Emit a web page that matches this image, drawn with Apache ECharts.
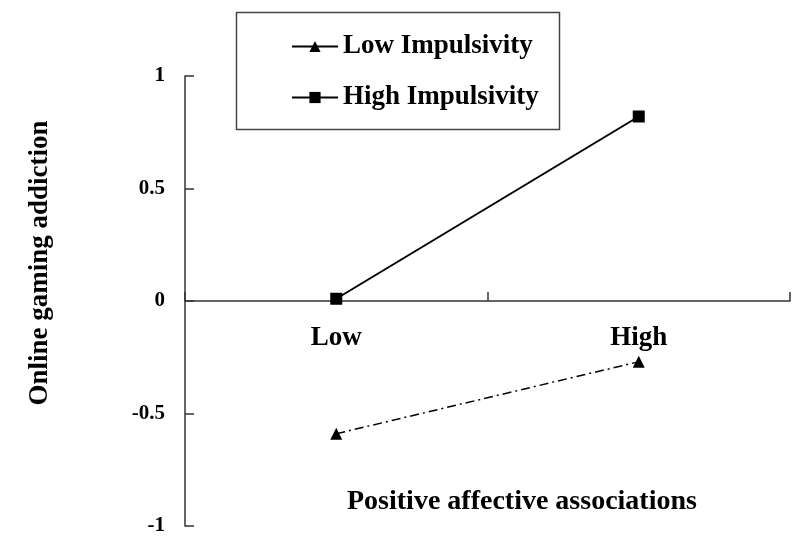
<!DOCTYPE html>
<html><head><meta charset="utf-8">
<script src="https://cdn.jsdelivr.net/npm/echarts@6/dist/echarts.min.js"></script>
<style>html,body{margin:0;padding:0;background:#fff}#c{width:800px;height:547px}</style>
</head><body><div id="c"></div>
<script>
var categories = ['Low', 'High'];
var lowImpulsivity = [-0.59, -0.27];
var highImpulsivity = [0.01, 0.82];
var yTicks = [-1, -0.5, 0, 0.5, 1];

var font = '"Liberation Serif", "Times New Roman", serif';
var chart = echarts.init(document.getElementById('c'), null, {renderer: 'canvas'});
chart.setOption({
  animation: false,
  backgroundColor: '#fff',
  grid: {left: 185, right: 10, top: 76, bottom: 21, containLabel: false, outerBoundsMode: 'none'},
  xAxis: {
    type: 'category', data: categories, boundaryGap: true,
    position: 'bottom', offset: -225,
    axisLine: {show: true, onZero: false, lineStyle: {color: '#333', width: 1.5}},
    axisTick: {show: true, interval: 0, inside: true, length: 9, lineStyle: {color: '#333', width: 1.5}},
    axisLabel: {margin: 24, color: '#000', fontFamily: font, fontWeight: 'bold', fontSize: 27}
  },
  yAxis: {
    type: 'value', min: yTicks[0], max: yTicks[yTicks.length - 1], interval: 0.5,
    name: 'Online gaming addiction', nameLocation: 'middle', nameGap: 131,
    nameTextStyle: {color: '#000', fontFamily: font, fontWeight: 'bold', fontSize: 27, padding: [0, 0, 0, 76]},
    axisLine: {show: true, lineStyle: {color: '#333', width: 1.5}},
    axisTick: {show: true, inside: true, length: 9, lineStyle: {color: '#333', width: 1.5}},
    splitLine: {show: false},
    axisLabel: {margin: 20, color: '#000', fontFamily: font, fontWeight: 'bold', fontSize: 21}
  },
  legend: {
    orient: 'vertical', left: 286, top: 28, itemGap: 24, itemWidth: 46, itemHeight: 14,
    textStyle: {color: '#000', fontFamily: font, fontWeight: 'bold', fontSize: 27},
    data: [
      {name: 'Low Impulsivity', lineStyle: {type: 'solid'}},
      {name: 'High Impulsivity'}
    ]
  },
  graphic: [
    {type: 'rect', left: 234, top: 10, shape: {width: 323, height: 117},
     style: {fill: 'none', stroke: '#444', lineWidth: 1.5}},
    {type: 'text', left: 347, top: 488,
     style: {text: 'Positive affective associations', fill: '#000', font: 'bold 28px ' + font}}
  ],
  series: [
    {name: 'Low Impulsivity', type: 'line', data: lowImpulsivity,
     symbol: 'triangle', symbolSize: 12,
     itemStyle: {color: '#000'},
     lineStyle: {color: '#000', width: 1.5, type: [9, 4, 2, 4]}},
    {name: 'High Impulsivity', type: 'line', data: highImpulsivity,
     symbol: 'rect', symbolSize: 12,
     itemStyle: {color: '#000'},
     lineStyle: {color: '#000', width: 2}}
  ]
});
</script></body></html>
